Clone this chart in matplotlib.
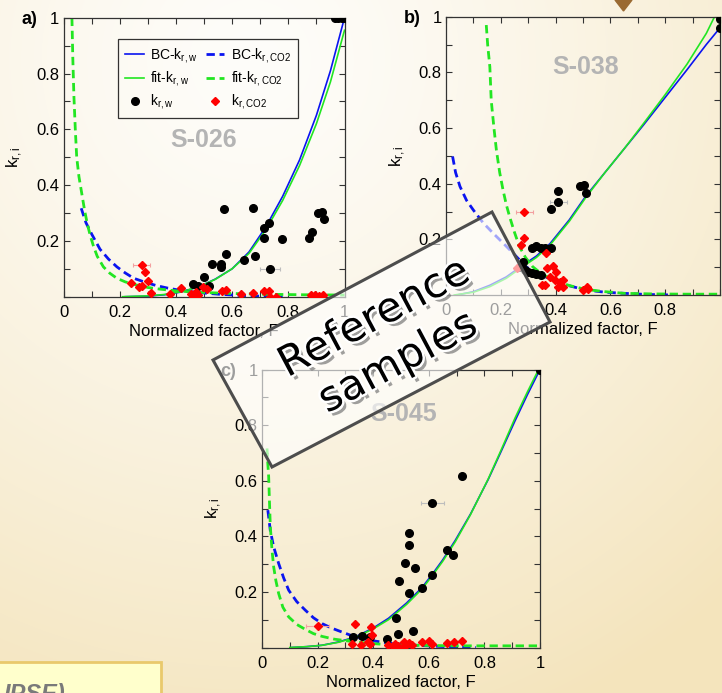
import numpy as np
import matplotlib
matplotlib.use("Agg")
import matplotlib.pyplot as plt
from matplotlib.patches import Polygon
from matplotlib.lines import Line2D
import matplotlib.patheffects as pe

plt.rcParams["font.family"] = ["Liberation Sans", "DejaVu Sans"]
plt.rcParams["mathtext.default"] = "regular"

# ---------------- panel a (S-026) ----------------
a_bcw_x = [0.22, 0.30, 0.36, 0.42, 0.48, 0.54, 0.60, 0.66, 0.72, 0.78, 0.84, 0.90, 0.95, 1.00]
a_bcw_y = [0.0, 0.002, 0.007, 0.017, 0.035, 0.063, 0.10, 0.16, 0.25, 0.36, 0.49, 0.65, 0.81, 1.0]
a_fitw_x = [0.21, 0.30, 0.36, 0.42, 0.48, 0.54, 0.60, 0.66, 0.72, 0.78, 0.84, 0.90, 0.95, 1.00]
a_fitw_y = [0.0, 0.003, 0.008, 0.018, 0.035, 0.062, 0.10, 0.155, 0.24, 0.345, 0.47, 0.62, 0.77, 0.955]
a_bcco2_x = [0.063, 0.08, 0.10, 0.13, 0.16, 0.19, 0.22, 0.25, 0.29, 0.33, 0.37, 0.42, 0.48, 0.55, 0.62, 0.70, 0.78]
a_bcco2_y = [0.317, 0.265, 0.225, 0.17, 0.135, 0.107, 0.085, 0.066, 0.052, 0.04, 0.031, 0.022, 0.015, 0.009, 0.005, 0.002, 0.0]
a_fitco2_x = [0.030, 0.033, 0.037, 0.042, 0.047, 0.055, 0.065, 0.075, 0.085, 0.095, 0.107, 0.12, 0.142,
              0.165, 0.19, 0.22, 0.26, 0.30, 0.344, 0.40, 0.48, 0.58, 0.70, 0.85, 1.0]
a_fitco2_y = [1.0, 0.86, 0.72, 0.60, 0.50, 0.43, 0.37, 0.31, 0.26, 0.22, 0.18, 0.145, 0.107,
              0.084, 0.066, 0.053, 0.042, 0.033, 0.027, 0.021, 0.016, 0.012, 0.009, 0.007, 0.006]
a_kw_x = [0.571, 0.673, 0.904, 0.919, 0.927, 0.886, 0.873, 0.779, 0.713, 0.712, 0.733, 0.578, 0.681,
          0.641, 0.529, 0.561, 0.562, 0.734, 0.500, 0.460, 0.519, 0.477, 0.967, 0.978, 0.990, 1.0]
a_kw_y = [0.315, 0.319, 0.299, 0.305, 0.280, 0.233, 0.211, 0.208, 0.209, 0.245, 0.265, 0.153, 0.146,
          0.132, 0.118, 0.116, 0.108, 0.098, 0.072, 0.044, 0.040, 0.038, 1.0, 1.0, 1.0, 1.0]
a_kco2_x = [0.279, 0.291, 0.240, 0.269, 0.281, 0.302, 0.311, 0.380, 0.418, 0.455, 0.462, 0.470, 0.478,
            0.498, 0.510, 0.565, 0.577, 0.630, 0.676, 0.713, 0.733, 0.735, 0.757, 0.880, 0.895, 0.910, 0.925]
a_kco2_y = [0.112, 0.090, 0.048, 0.034, 0.040, 0.057, 0.012, 0.010, 0.030, 0.010, 0.003, 0.018, 0.006,
            0.034, 0.028, 0.020, 0.025, 0.010, 0.012, 0.020, 0.020, 0.0, 0.0, 0.005, 0.006, 0.004, 0.007]
a_err_x = [0.279, 0.734]
a_err_y = [0.112, 0.098]
a_err_dx = [0.03, 0.035]
a_err_kind = ["co2", "w"]

# ---------------- panel b (S-038) ----------------
b_bcw_x = [0.04, 0.10, 0.16, 0.22, 0.27, 0.33, 0.38, 0.45, 0.51, 0.58, 0.65, 0.72, 0.80, 0.88, 0.95, 1.0]
b_bcw_y = [0.0, 0.012, 0.035, 0.065, 0.10, 0.14, 0.185, 0.27, 0.355, 0.44, 0.525, 0.61, 0.71, 0.81, 0.90, 0.96]
b_fitw_x = [0.03, 0.10, 0.16, 0.22, 0.27, 0.33, 0.38, 0.45, 0.51, 0.58, 0.65, 0.72, 0.80, 0.88, 0.95, 0.98]
b_fitw_y = [0.0, 0.01, 0.03, 0.06, 0.095, 0.135, 0.18, 0.265, 0.35, 0.44, 0.525, 0.615, 0.72, 0.83, 0.94, 1.0]
b_bcco2_x = [0.024, 0.035, 0.051, 0.075, 0.10, 0.135, 0.172, 0.21, 0.245, 0.294, 0.34, 0.39, 0.45,
             0.51, 0.58, 0.65, 0.73, 0.83]
b_bcco2_y = [0.498, 0.44, 0.39, 0.34, 0.305, 0.26, 0.222, 0.185, 0.15, 0.10, 0.075, 0.054, 0.033,
             0.018, 0.01, 0.006, 0.002, 0.0]
b_fitco2_x = [0.147, 0.152, 0.16, 0.165, 0.175, 0.184, 0.196, 0.208, 0.22, 0.232, 0.25, 0.268, 0.29,
              0.316, 0.35, 0.39, 0.45, 0.51, 0.58, 0.65, 0.75, 0.87, 1.0]
b_fitco2_y = [0.97, 0.90, 0.82, 0.70, 0.60, 0.52, 0.44, 0.378, 0.325, 0.282, 0.225, 0.174, 0.135,
              0.102, 0.075, 0.055, 0.034, 0.02, 0.012, 0.006, 0.004, 0.003, 0.003]
b_kw_x = [0.383, 0.407, 0.410, 0.489, 0.504, 0.510, 0.313, 0.330, 0.345, 0.360, 0.383, 0.280,
          0.270, 0.300, 0.315, 0.330, 0.345, 0.290, 1.0, 1.0]
b_kw_y = [0.309, 0.372, 0.333, 0.390, 0.396, 0.368, 0.170, 0.175, 0.168, 0.170, 0.168, 0.118,
          0.100, 0.082, 0.078, 0.075, 0.072, 0.090, 0.99, 0.96]
b_kco2_x = [0.286, 0.285, 0.274, 0.258, 0.365, 0.367, 0.390, 0.403, 0.380, 0.398, 0.416, 0.428,
            0.410, 0.428, 0.361, 0.350, 0.513, 0.500, 0.520]
b_kco2_y = [0.300, 0.206, 0.180, 0.096, 0.152, 0.096, 0.104, 0.084, 0.066, 0.054, 0.048, 0.054,
            0.030, 0.030, 0.036, 0.036, 0.030, 0.018, 0.020]
b_err_x = [0.286, 0.410]
b_err_y = [0.300, 0.333]
b_err_dx = [0.03, 0.03]
b_err_kind = ["co2", "w"]

# ---------------- panel c (S-045) ----------------
c_bcw_x = [0.108, 0.16, 0.216, 0.276, 0.335, 0.40, 0.455, 0.52, 0.575, 0.61, 0.65, 0.695, 0.75,
           0.814, 0.86, 0.91, 0.955, 1.0]
c_bcw_y = [0.0, 0.003, 0.008, 0.02, 0.038, 0.07, 0.105, 0.16, 0.215, 0.26, 0.315, 0.385, 0.48,
           0.605, 0.705, 0.815, 0.91, 1.0]
c_fitw_x = [0.10, 0.16, 0.216, 0.276, 0.335, 0.40, 0.455, 0.52, 0.575, 0.61, 0.65, 0.695, 0.75,
            0.814, 0.86, 0.91, 0.955, 0.995]
c_fitw_y = [0.0, 0.003, 0.008, 0.019, 0.036, 0.067, 0.10, 0.155, 0.21, 0.255, 0.31, 0.38, 0.478,
            0.607, 0.71, 0.825, 0.92, 1.0]
c_bcco2_x = [0.021, 0.03, 0.042, 0.06, 0.078, 0.096, 0.125, 0.156, 0.185, 0.216, 0.25, 0.276,
             0.335, 0.40, 0.455, 0.52, 0.575, 0.64, 0.695, 0.77]
c_bcco2_y = [0.494, 0.42, 0.362, 0.302, 0.25, 0.206, 0.165, 0.134, 0.107, 0.086, 0.07, 0.06,
             0.038, 0.024, 0.016, 0.01, 0.007, 0.004, 0.002, 0.0]
c_fitco2_x = [0.018, 0.021, 0.024, 0.027, 0.03, 0.036, 0.042, 0.05, 0.06, 0.075, 0.096, 0.125,
              0.156, 0.185, 0.216, 0.26, 0.335, 0.40, 0.455, 0.55, 0.695, 0.85, 1.0]
c_fitco2_y = [0.716, 0.66, 0.614, 0.52, 0.434, 0.35, 0.29, 0.24, 0.194, 0.145, 0.11, 0.083,
              0.065, 0.05, 0.04, 0.03, 0.02, 0.014, 0.01, 0.008, 0.006, 0.006, 0.006]
c_kw_x = [0.721, 0.613, 0.528, 0.528, 0.514, 0.550, 0.494, 0.528, 0.575, 0.611, 0.666, 0.687,
          0.483, 0.491, 0.542, 0.450, 0.389, 0.359, 0.329, 1.0]
c_kw_y = [0.617, 0.520, 0.412, 0.367, 0.304, 0.285, 0.239, 0.197, 0.213, 0.260, 0.350, 0.332,
          0.107, 0.049, 0.060, 0.032, 0.036, 0.041, 0.036, 1.0]
c_kco2_x = [0.200, 0.333, 0.393, 0.397, 0.325, 0.355, 0.380, 0.390, 0.455, 0.473, 0.491, 0.509,
            0.527, 0.539, 0.575, 0.599, 0.611, 0.666, 0.690, 0.720, 0.510, 0.480]
c_kco2_y = [0.077, 0.086, 0.074, 0.044, 0.012, 0.008, 0.018, 0.012, 0.008, 0.005, 0.006, 0.020,
            0.015, 0.008, 0.020, 0.022, 0.012, 0.015, 0.018, 0.022, 0.003, 0.012]
c_err_x = [0.613, 0.200]
c_err_y = [0.520, 0.077]
c_err_dx = [0.04, 0.04]
c_err_kind = ["w", "co2"]

tick_pos = np.round(np.arange(0, 1.01, 0.1), 1)
x_labels = ["0", "", "0.2", "", "0.4", "", "0.6", "", "0.8", "", "1"]
y_labels = ["", "", "0.2", "", "0.4", "", "0.6", "", "0.8", "", "1"]

BLUE = "#0a14f0"
GREEN = "#22e622"
W, H = 722, 693

fig = plt.figure(figsize=(W / 100, H / 100), dpi=100)

# slide background (radial cream gradient) + decorations
bg = fig.add_axes([0, 0, 1, 1], zorder=-10)
bg.axis("off")
yy, xx = np.mgrid[0:H, 0:W]
t = np.clip(np.hypot(xx - 250, yy - 60) / 720, 0, 1) ** 1.3
c0 = np.array([254, 253, 250]) / 255
c1 = np.array([244, 228, 188]) / 255
bg.imshow(c0 + (c1 - c0) * t[..., None], extent=[0, W, H, 0], aspect="auto")
bg.add_patch(Polygon([[615, 0], [632, 0], [623.5, 11]], closed=True, color="#9a6a32"))
bg.add_patch(Polygon([[-5, 662], [161, 662], [161, 700], [-5, 700]], closed=True,
                     facecolor="#ffffcc", edgecolor="#e9c96c", lw=2))
bg.text(4, 683, "IPSE)", fontsize=17, fontweight="bold", style="italic", color="#7a7a7a",
        va="top", ha="left")
bg.set_xlim(0, W)
bg.set_ylim(H, 0)


def px_rect(left, top, right, bottom):
    return [left / W, 1 - bottom / H, (right - left) / W, (bottom - top) / H]


def draw_panel(rect, tag, name, name_xy, bcw, fitw, bcco2, fitco2, kw, kco2, errs,
               legend=False, last_xlabel=True):
    ax = fig.add_axes(rect)
    ax.set_facecolor("none")
    ax.plot(bcw[0], bcw[1], color=BLUE, lw=1.2)
    ax.plot(fitw[0], fitw[1], color=GREEN, lw=1.2)
    ax.plot(bcco2[0], bcco2[1], color=BLUE, lw=2.0, ls=(0, (3, 1.7)))
    ax.plot(fitco2[0], fitco2[1], color=GREEN, lw=2.0, ls=(0, (3, 1.7)))
    ex, ey, edx, ekind = errs
    for x, y, d, k in zip(ex, ey, edx, ekind):
        ax.errorbar([x], [y], xerr=[d], fmt="none", ecolor="#f3a0a0" if k == "co2" else "#bdbdbd",
                    elinewidth=0.8, capsize=1.5, capthick=0.8, zorder=3)
    ax.plot(kw[0], kw[1], "o", color="black", ms=5.5, mec="black", zorder=4)
    ax.plot(kco2[0], kco2[1], "D", color="#ff0000", ms=4.2, mec="#ff0000", zorder=4)
    ax.set_xlim(0, 1)
    ax.set_ylim(0, 1)
    ax.set_xticks(tick_pos)
    ax.set_yticks(tick_pos)
    xl = list(x_labels)
    if not last_xlabel:
        xl[-1] = ""
    ax.set_xticklabels(xl)
    ax.set_yticklabels(y_labels)
    ax.tick_params(direction="in", length=4, width=0.8, top=True, right=True, labelsize=12,
                   color="#333333")
    ax.tick_params(axis="x", pad=6)
    ax.tick_params(axis="y", pad=3)
    for s in ax.spines.values():
        s.set_color("#333333")
        s.set_linewidth(0.9)
    ax.set_xlabel("Normalized factor, F", fontsize=12, labelpad=3)
    ax.set_ylabel(r"k$_{r,i}$", fontsize=12, labelpad=8)
    ax.text(name_xy[0], name_xy[1], name, transform=ax.transAxes, ha="center", va="center",
            fontsize=18, fontweight="bold", color="#b4b4b4")
    left_px = rect[0] * W
    top_px = (1 - rect[1] - rect[3]) * H
    fig.text((left_px - 34) / W, 1 - (top_px + 2) / H, tag, fontsize=13, fontweight="bold",
             ha="center", va="center")
    if legend:
        h = ax.get_lines()
        handles = [h[0], h[1], Line2D([], [], ls="none", marker="o", color="black", ms=5.5),
                   h[2], h[3], Line2D([], [], ls="none", marker="D", color="#ff0000", ms=4.2)]
        labels = [r"BC-k$_{r,w}$", r"fit-k$_{r,w}$", r"k$_{r,w}$",
                  r"BC-k$_{r,CO2}$", r"fit-k$_{r,CO2}$", r"k$_{r,CO2}$"]
        leg = ax.legend(handles, labels, ncol=2, loc="upper left", bbox_to_anchor=(0.17, 0.948),
                        fontsize=10, frameon=True, fancybox=False, edgecolor="black",
                        facecolor="none", handlelength=1.35, handletextpad=0.45,
                        columnspacing=0.55, labelspacing=0.3, borderpad=0.5)
        leg.get_frame().set_linewidth(0.9)
    return ax


draw_panel(px_rect(63.5, 17.7, 344.5, 296.7), "a)", "S-026", (0.5, 0.56),
           (a_bcw_x, a_bcw_y), (a_fitw_x, a_fitw_y), (a_bcco2_x, a_bcco2_y),
           (a_fitco2_x, a_fitco2_y), (a_kw_x, a_kw_y), (a_kco2_x, a_kco2_y),
           (a_err_x, a_err_y, a_err_dx, a_err_kind), legend=True)
draw_panel(px_rect(446, 16.7, 720, 295), "b)", "S-038", (0.51, 0.82),
           (b_bcw_x, b_bcw_y), (b_fitw_x, b_fitw_y), (b_bcco2_x, b_bcco2_y),
           (b_fitco2_x, b_fitco2_y), (b_kw_x, b_kw_y), (b_kco2_x, b_kco2_y),
           (b_err_x, b_err_y, b_err_dx, b_err_kind), last_xlabel=False)
draw_panel(px_rect(262, 369.5, 540, 647.5), "c)", "S-045", (0.51, 0.84),
           (c_bcw_x, c_bcw_y), (c_fitw_x, c_fitw_y), (c_bcco2_x, c_bcco2_y),
           (c_fitco2_x, c_fitco2_y), (c_kw_x, c_kw_y), (c_kco2_x, c_kco2_y),
           (c_err_x, c_err_y, c_err_dx, c_err_kind))

# overlay stamp
ov = fig.add_axes([0, 0, 1, 1], zorder=10)
ov.axis("off")
ov.patch.set_visible(False)
corners = [[213, 360], [492, 212], [550, 322], [272, 467]]
ov.add_patch(Polygon(corners, closed=True, facecolor="white", alpha=0.62, edgecolor="none"))
ov.add_patch(Polygon(corners, closed=True, facecolor="none", edgecolor="#4d4d4d", lw=2.2))
ov.text(386, 340, "Reference\nsamples", rotation=28, rotation_mode="anchor", ha="center",
        va="center", multialignment="center", fontsize=30, linespacing=1.25,
        family="DejaVu Sans", color="black",
        path_effects=[pe.SimplePatchShadow(offset=(3, -3), shadow_rgbFace="#777777", alpha=0.7),
                      pe.Stroke(linewidth=3.5, foreground="white"), pe.Normal()])
ov.set_xlim(0, W)
ov.set_ylim(H, 0)

fig.savefig("out.png", dpi=100)
